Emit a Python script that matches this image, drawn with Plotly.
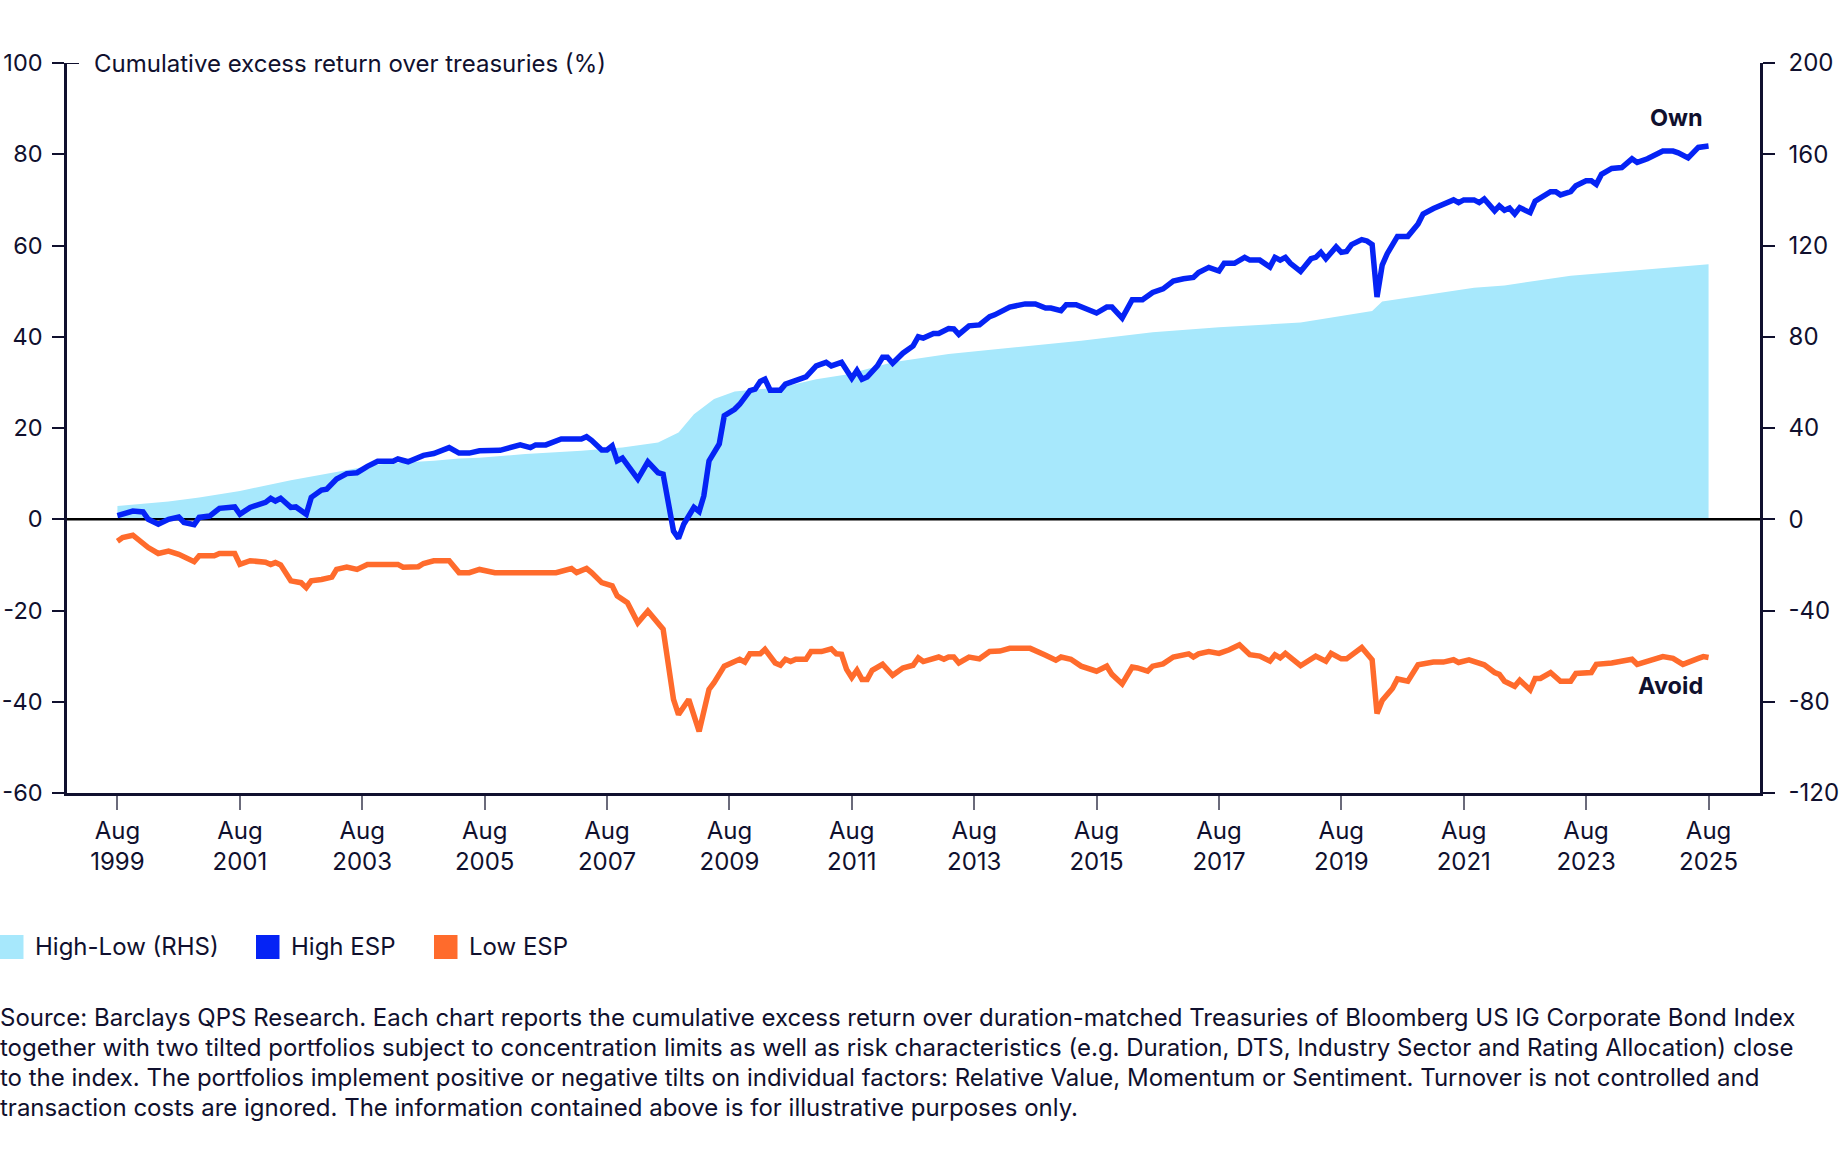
import plotly.graph_objects as go

# ---------------- data ----------------
high_dates = ["1999-08","1999-09","1999-11","2000-01","2000-02","2000-04","2000-06","2000-08","2000-09","2000-11",
"2000-12","2001-02","2001-04","2001-07","2001-08","2001-10","2002-01","2002-02","2002-03","2002-04",
"2002-06","2002-07","2002-09","2002-10","2002-12","2003-01","2003-03","2003-05","2003-07","2003-09",
"2003-11","2004-02","2004-03","2004-05","2004-08","2004-10","2005-01","2005-03","2005-05","2005-07",
"2005-11","2006-03","2006-05","2006-06","2006-08","2006-11","2007-03","2007-04","2007-05","2007-07",
"2007-08","2007-09","2007-10","2007-11","2008-02","2008-04","2008-06","2008-07","2008-08","2008-09",
"2008-10","2008-11","2009-01","2009-02","2009-03","2009-04","2009-06","2009-07","2009-09","2009-10",
"2009-12","2010-01","2010-02","2010-03","2010-04","2010-06","2010-07","2010-09","2010-11","2011-01",
"2011-03","2011-04","2011-06","2011-08","2011-09","2011-10","2011-11","2012-01","2012-02","2012-03",
"2012-04","2012-06","2012-08","2012-09","2012-10","2012-12","2013-01","2013-03","2013-04","2013-05",
"2013-07","2013-09","2013-11","2013-12","2014-03","2014-06","2014-08","2014-10","2014-11","2015-01",
"2015-02","2015-04","2015-06","2015-08","2015-10","2015-11","2016-01","2016-03","2016-05","2016-07",
"2016-09","2016-11","2017-01","2017-03","2017-04","2017-06","2017-08","2017-09","2017-11","2018-01",
"2018-02","2018-04","2018-06","2018-07","2018-08","2018-09","2018-10","2018-12","2019-02","2019-03",
"2019-04","2019-05","2019-07","2019-08","2019-09","2019-10","2019-12","2020-01","2020-02","2020-03",
"2020-04","2020-05","2020-07","2020-09","2020-11","2020-12","2021-02","2021-04","2021-06","2021-07",
"2021-08","2021-10","2021-11","2021-12","2022-02","2022-03","2022-04","2022-05","2022-06","2022-07",
"2022-09","2022-10","2023-01","2023-02","2023-03","2023-05","2023-06","2023-08","2023-09","2023-10",
"2023-11","2024-01","2024-03","2024-05","2024-06","2024-08","2024-11","2025-01","2025-02","2025-04",
"2025-06","2025-08"]
high_esp = [0.8,1.1,1.8,1.6,0.0,-1.1,0.0,0.5,-0.7,-1.2,
0.4,0.7,2.4,2.7,1.1,2.6,3.7,4.6,4.0,4.6,
2.6,2.7,1.1,4.8,6.4,6.6,8.8,10.0,10.2,11.6,
12.7,12.7,13.2,12.6,14.0,14.4,15.7,14.5,14.5,15.0,
15.1,16.3,15.7,16.3,16.3,17.6,17.6,18.1,17.3,15.2,
15.2,16.1,12.8,13.4,8.8,12.6,10.2,9.9,3.3,-2.6,
-4.2,-1.1,2.6,1.7,5.1,12.8,16.5,22.7,24.1,25.2,
28.2,28.5,30.2,30.7,28.3,28.3,29.6,30.4,31.2,33.6,
34.4,33.6,34.4,30.9,32.6,30.7,31.2,33.6,35.5,35.5,
34.2,36.4,38.0,40.0,39.7,40.7,40.7,41.8,41.7,40.5,
42.4,42.6,44.4,44.8,46.5,47.2,47.2,46.3,46.3,45.7,
47.0,47.0,46.0,45.2,46.5,46.5,44.1,48.1,48.1,49.7,
50.5,52.2,52.7,53.0,54.1,55.2,54.4,56.1,56.1,57.4,
56.8,56.8,55.3,57.4,56.8,57.4,56.1,54.3,57.1,57.4,
58.5,57.1,59.7,58.5,58.7,60.2,61.3,61.0,60.2,48.7,
55.7,58.2,62.0,62.0,64.7,66.9,68.1,68.9,70.0,69.4,
70.0,70.0,69.4,70.2,67.6,68.7,67.7,68.2,66.9,68.3,
67.2,69.7,71.8,71.8,71.1,71.8,73.1,74.2,74.2,73.4,
75.6,76.9,77.1,79.0,78.2,79.0,80.7,80.7,80.3,79.2,
81.5,81.8]

low_dates = ["1999-08","1999-09","1999-11","1999-12","2000-02","2000-04","2000-06","2000-08","2000-11","2000-12",
"2001-03","2001-04","2001-07","2001-08","2001-10","2002-01","2002-02","2002-03","2002-04","2002-06",
"2002-08","2002-09","2002-10","2002-12","2003-02","2003-03","2003-05","2003-07","2003-09","2004-03",
"2004-04","2004-07","2004-08","2004-10","2005-01","2005-03","2005-05","2005-07","2005-10","2006-10",
"2007-01","2007-02","2007-04","2007-05","2007-07","2007-09","2007-10","2007-12","2008-02","2008-04",
"2008-06","2008-07","2008-09","2008-10","2008-12","2009-02","2009-04","2009-05","2009-07","2009-10",
"2009-11","2009-12","2010-02","2010-03","2010-05","2010-06","2010-07","2010-08","2010-09","2010-11",
"2010-12","2011-02","2011-04","2011-05","2011-06","2011-07","2011-08","2011-09","2011-10","2011-11",
"2011-12","2012-02","2012-04","2012-06","2012-08","2012-09","2012-10","2013-01","2013-02","2013-03",
"2013-04","2013-05","2013-07","2013-09","2013-11","2014-01","2014-03","2014-07","2014-10","2014-12",
"2015-01","2015-03","2015-05","2015-08","2015-10","2015-11","2016-01","2016-03","2016-04","2016-06",
"2016-07","2016-09","2016-11","2017-01","2017-02","2017-03","2017-04","2017-06","2017-08","2017-10",
"2017-12","2018-02","2018-04","2018-06","2018-07","2018-08","2018-09","2018-12","2019-02","2019-03",
"2019-05","2019-06","2019-08","2019-09","2019-12","2020-02","2020-03","2020-04","2020-06","2020-07",
"2020-09","2020-11","2021-02","2021-04","2021-06","2021-07","2021-09","2021-12","2022-02","2022-03",
"2022-04","2022-06","2022-07","2022-09","2022-10","2022-11","2023-01","2023-03","2023-05","2023-06",
"2023-09","2023-10","2024-01","2024-03","2024-05","2024-06","2024-09","2024-11","2025-01","2025-03",
"2025-06","2025-07","2025-08"]
low_esp = [-4.8,-4.0,-3.5,-4.4,-6.2,-7.5,-7.0,-7.7,-9.3,-8.0,
-8.0,-7.5,-7.5,-9.9,-9.1,-9.4,-9.9,-9.5,-10.0,-13.5,
-13.9,-15.0,-13.5,-13.2,-12.7,-11.0,-10.5,-11.0,-9.9,-9.9,
-10.5,-10.4,-9.7,-9.1,-9.1,-11.7,-11.7,-11.0,-11.7,-11.7,
-10.8,-11.7,-10.8,-11.7,-13.9,-14.6,-16.8,-18.3,-22.7,-20.1,
-22.7,-24.1,-39.5,-42.8,-39.5,-46.5,-37.3,-35.8,-32.2,-30.7,
-31.3,-29.5,-29.5,-28.5,-31.5,-32.0,-30.7,-31.2,-30.7,-30.7,
-29.0,-29.0,-28.4,-29.5,-29.6,-32.9,-34.7,-33.1,-35.1,-35.1,
-33.1,-31.8,-34.2,-32.6,-32.0,-30.4,-31.2,-30.2,-30.7,-30.2,
-30.2,-31.5,-30.2,-30.6,-29.0,-28.9,-28.3,-28.3,-29.8,-30.9,
-30.2,-30.7,-32.2,-33.3,-32.2,-34.0,-36.1,-32.4,-32.6,-33.3,
-32.2,-31.7,-30.2,-29.8,-29.5,-30.2,-29.5,-29.0,-29.4,-28.6,
-27.5,-29.7,-30.0,-31.1,-29.7,-30.4,-29.4,-32.1,-30.4,-30.0,
-31.1,-29.4,-30.6,-30.6,-28.1,-30.8,-42.6,-39.7,-37.1,-35.0,
-35.5,-31.9,-31.3,-31.3,-30.8,-31.4,-30.8,-31.9,-33.6,-34.0,
-35.5,-36.6,-35.3,-37.4,-34.9,-34.9,-33.6,-35.5,-35.5,-33.8,
-33.6,-31.8,-31.5,-31.1,-30.7,-31.8,-30.9,-30.1,-30.5,-31.8,
-30.5,-30.1,-30.3]

hl_dates = ["1999-08","2000-06","2000-12","2001-08","2002-06","2003-02","2003-11","2004-05","2004-10","2005-03",
"2005-07","2006-04","2007-03","2007-11","2008-06","2008-10","2009-01","2009-05","2009-09","2010-06",
"2011-01","2011-07","2012-04","2013-03","2014-04","2015-05","2016-07","2017-08","2018-12","2020-02",
"2020-04","2021-05","2021-10","2022-04","2023-05","2024-06","2025-08"]
high_low_rhs = [5.8,7.8,9.5,12.4,17.1,20.5,24.0,25.0,25.6,26.6,
27.0,28.6,30.0,31.5,33.6,38.0,46.0,52.7,56.0,57.8,
61.4,63.4,68.8,72.4,75.3,78.3,82.0,84.2,86.2,91.3,
95.5,99.7,101.5,102.5,106.7,109.2,111.8]

tick_dates = ["%d-08-01" % y for y in range(1999, 2026, 2)]
tick_text = ["Aug<br>%d" % y for y in range(1999, 2026, 2)]
x_range = ["1998-10-04", "2026-06-04"]
left_ticks = [-60, -40, -20, 0, 20, 40, 60, 80, 100]
right_ticks = [-120, -80, -40, 0, 40, 80, 120, 160, 200]

source_lines = [
    "Source: Barclays QPS Research. Each chart reports the cumulative excess return over duration-matched Treasuries of Bloomberg US IG Corporate Bond Index",
    "together with two tilted portfolios subject to concentration limits as well as risk characteristics (e.g. Duration, DTS, Industry Sector and Rating Allocation) close",
    "to the index. The portfolios implement positive or negative tilts on individual factors: Relative Value, Momentum or Sentiment. Turnover is not controlled and",
    "transaction costs are ignored. The information contained above is for illustrative purposes only.",
]

# ---------------- styling ----------------
W, H = 1840, 1170
ML, MR, MT, MB = 67, 80, 63, 377
PW, PH = W - ML - MR, H - MT - MB
NAVY = "#10102e"
FILL = "#a7e8fc"
BLUE = "#0523f5"
ORANGE = "#ff6b2c"
FONT = "Inter"
FS = 24

def px(x):
    return (x - ML) / PW

def py(y):
    return (H - MB - y) / PH

fig = go.Figure()
fig.add_trace(go.Scatter(x=hl_dates, y=high_low_rhs, name="High-Low (RHS)", mode="lines",
                         line=dict(width=0, color=FILL), fill="tozeroy", fillcolor=FILL,
                         yaxis="y", showlegend=False))
fig.add_trace(go.Scatter(x=x_range, y=[0, 0], mode="lines", line=dict(color="#000000", width=2.5),
                         yaxis="y2", showlegend=False, hoverinfo="skip"))
fig.add_trace(go.Scatter(x=low_dates, y=low_esp, name="Low ESP", mode="lines",
                         line=dict(color=ORANGE, width=5.5), yaxis="y2", showlegend=False))
fig.add_trace(go.Scatter(x=high_dates, y=high_esp, name="High ESP", mode="lines",
                         line=dict(color=BLUE, width=5.5), yaxis="y2", showlegend=False))

axis_common = dict(showgrid=False, zeroline=False, showline=True, linecolor=NAVY, linewidth=2.5,
                   ticks="outside", ticklen=12, tickwidth=2, tickcolor=NAVY, automargin=False)

fig.update_layout(
    width=W, height=H, margin=dict(l=ML, r=MR, t=MT, b=MB, autoexpand=False),
    paper_bgcolor="white", plot_bgcolor="white", showlegend=False,
    font=dict(family=FONT, color=NAVY, size=FS),
    xaxis=dict(type="date", range=x_range, tickvals=tick_dates, ticktext=tick_text,
               showgrid=False, zeroline=False, showline=True, linecolor=NAVY, linewidth=2.5,
               ticks="outside", ticklen=14, tickwidth=1.5, tickcolor="#6b6b7b", automargin=False,
               tickfont=dict(family=FONT, size=FS, color=NAVY), anchor="y"),
    yaxis=dict(range=[-120, 200], tickvals=right_ticks, ticktext=[str(v) for v in right_ticks],
               side="right", ticklabelstandoff=9,
               tickfont=dict(family=FONT, size=FS, color=NAVY), **axis_common),
    yaxis2=dict(range=[-60, 100], tickvals=left_ticks, ticktext=[str(v) for v in left_ticks],
                side="left", overlaying="y", ticklabelstandoff=5,
                tickfont=dict(family=FONT, size=23.5, color=NAVY), **axis_common),
)

# inward extension of the top tick
fig.add_shape(type="line", xref="paper", yref="y2", x0=0, x1=12 / PW, y0=100, y1=100,
              line=dict(color=NAVY, width=2))

ann = []
ann.append(dict(text="Cumulative excess return over treasuries (%)", xref="paper", yref="paper",
                x=px(92), y=1, xanchor="left", yanchor="middle", showarrow=False,
                font=dict(family=FONT, size=FS, color=NAVY)))
ann.append(dict(text="<b>Own</b>", xref="paper", yref="paper", x=px(1705), y=py(118),
                xanchor="right", yanchor="middle", showarrow=False,
                font=dict(family=FONT, size=23.5, color=NAVY)))
ann.append(dict(text="<b>Avoid</b>", xref="paper", yref="paper", x=px(1705), y=py(685),
                xanchor="right", yanchor="middle", showarrow=False,
                font=dict(family=FONT, size=23.5, color=NAVY)))

# custom legend (square swatches)
legend_items = [("High-Low (RHS)", FILL, 0), ("High ESP", BLUE, 256), ("Low ESP", ORANGE, 434)]
for label, col, x0 in legend_items:
    fig.add_shape(type="rect", xref="paper", yref="paper", x0=px(x0), x1=px(x0 + 23.5),
                  y0=py(959), y1=py(935), fillcolor=col, line=dict(width=0))
    ann.append(dict(text=label, xref="paper", yref="paper", x=px(x0 + 33), y=py(947),
                    xanchor="left", yanchor="middle", showarrow=False,
                    font=dict(family=FONT, size=FS, color=NAVY)))

for i, line in enumerate(source_lines):
    ann.append(dict(text=line, xref="paper", yref="paper", x=px(-2), y=py(1017 + 30 * i),
                    xanchor="left", yanchor="middle", showarrow=False,
                    font=dict(family=FONT, size=FS, color=NAVY)))

fig.update_layout(annotations=ann)
fig.write_html("out.html", config={"displayModeBar": False},
               post_script="document.body.style.margin='0px';")
